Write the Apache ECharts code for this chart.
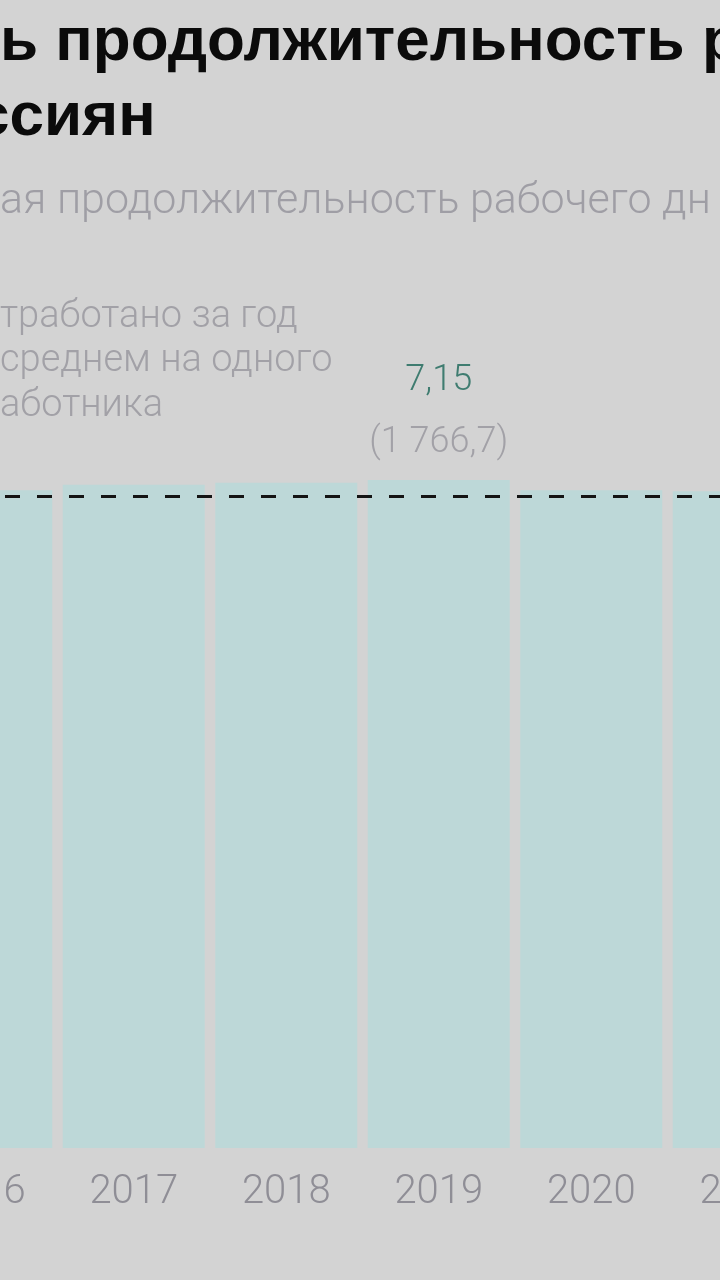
<!DOCTYPE html>
<html>
<head>
<meta charset="utf-8">
<script src="https://cdn.jsdelivr.net/npm/echarts@6/dist/echarts.min.js"></script>
<style>
html,body{margin:0;padding:0;background:#d3d3d3;}
#chart{width:720px;height:1280px;}
</style>
</head>
<body>
<div id="chart"></div>
<script>
const categories = ['2016', '2017', '2018', '2019', '2020', '2021'];
const dayHours = [7.04, 7.10, 7.12, 7.15, 7.04, 7.03];
const yearHours = [null, null, null, 1766.7, null, null];
const referenceLine = 6.98;
const titleLines = ['ь продолжительность р', 'ссиян'];
const subtitle = 'ая продолжительность рабочего дн';
const noteLines = ['тработано за год', 'среднем на одного', 'аботника'];
const highlightIndex = 3;

function fmtNum(v, digits) {
  const s = v.toFixed(digits).split('.');
  const intPart = s[0].replace(/\B(?=(\d{3})+(?!\d))/g, ' ');
  return s.length > 1 ? intPart + ',' + s[1] : intPart;
}

const chart = echarts.init(document.getElementById('chart'));

const barData = dayHours.map((v, i) => {
  if (i === highlightIndex) {
    return {
      value: v,
      label: {
        show: true,
        position: 'top',
        distance: 6,
        formatter: () => '{a|' + fmtNum(dayHours[i], 2) + '}\n{b|(' + fmtNum(yearHours[i], 1) + ')}',
        rich: {
          a: {fontFamily: 'Roboto', fontWeight: 300, fontSize: 36, color: '#3f7c70', lineHeight: 62, align: 'center'},
          b: {fontFamily: 'Roboto', fontWeight: 300, fontSize: 36, color: '#a2a1a7', lineHeight: 62, align: 'center'}
        }
      }
    };
  }
  return v;
});

const option = {
  backgroundColor: '#d3d3d3',
  animation: false,
  grid: {left: -95, right: -100, top: 400.6, bottom: 132, containLabel: false, outerBoundsMode: 'none'},
  xAxis: {
    type: 'category',
    data: categories,
    axisLine: {show: false},
    axisTick: {show: false},
    axisLabel: {interval: 0, fontFamily: 'Roboto', fontWeight: 300, fontSize: 40, color: '#8f8e96', margin: 25}
  },
  yAxis: {
    type: 'value', min: 0, max: 8, show: false,
    splitLine: {show: false}
  },
  series: [{
    type: 'bar',
    data: barData,
    barCategoryGap: '6.9%',
    itemStyle: {color: '#bdd8d8'},
    markLine: {
      silent: true,
      symbol: 'none',
      label: {show: false},
      lineStyle: {color: '#141414', width: 3, type: [15, 17], dashOffset: 28},
      data: [{yAxis: referenceLine}]
    }
  }],
  graphic: [
    {type: 'text', x: 0, y: 12, style: {text: titleLines[0], fontFamily: 'Liberation Sans', fontWeight: 'bold', fontSize: 62, fill: '#0b0b0b'}},
    {type: 'text', x: -25, y: 87, style: {text: titleLines[1], fontFamily: 'Liberation Sans', fontWeight: 'bold', fontSize: 62, fill: '#0b0b0b'}},
    {type: 'text', x: 0, y: 202, style: {text: subtitle, fontFamily: 'Roboto', fontWeight: 300, fontSize: 43, fill: '#9f9ea5', textVerticalAlign: 'middle'}},
    {type: 'text', x: 0, y: 317, style: {text: noteLines[0], fontFamily: 'Roboto', fontWeight: 300, fontSize: 38, fill: '#a2a1a7', textVerticalAlign: 'middle'}},
    {type: 'text', x: 0, y: 361, style: {text: noteLines[1], fontFamily: 'Roboto', fontWeight: 300, fontSize: 38, fill: '#a2a1a7', textVerticalAlign: 'middle'}},
    {type: 'text', x: 0, y: 406, style: {text: noteLines[2], fontFamily: 'Roboto', fontWeight: 300, fontSize: 38, fill: '#a2a1a7', textVerticalAlign: 'middle'}}
  ]
};
chart.setOption(option);
</script>
</body>
</html>
